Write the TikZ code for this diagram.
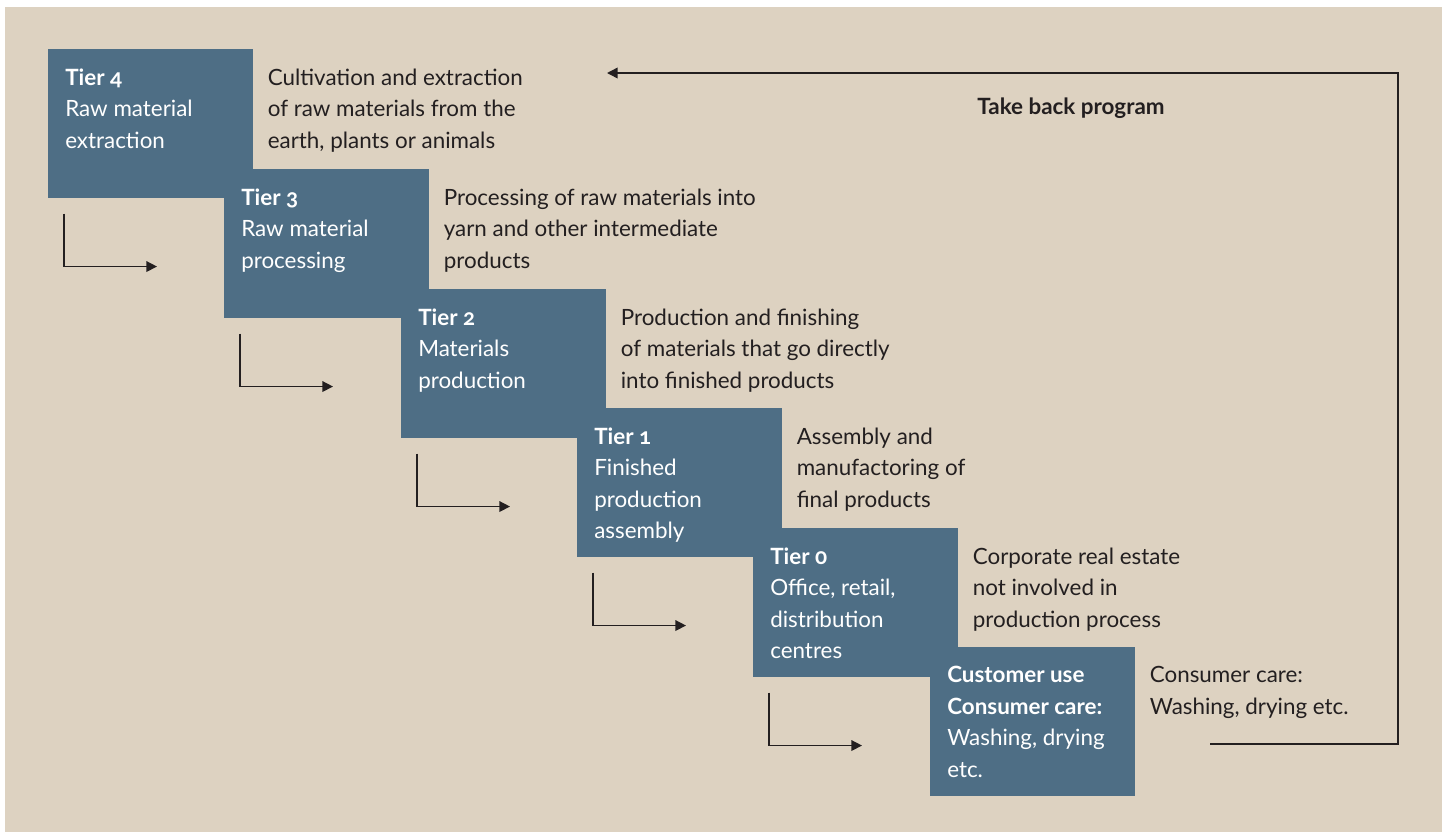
\documentclass[tikz,border=0pt]{standalone}
\usepackage{fontspec}
\setmainfont{Lato}[Numbers=OldStyle]
\usepackage{xcolor}
\usetikzlibrary{arrows.meta}
\definecolor{sand}{RGB}{221, 210, 193}
\definecolor{slate}{RGB}{78, 110, 133}
\definecolor{ink}{RGB}{35, 31, 32}

\begin{document}
\begin{tikzpicture}[x=0.75pt,y=-0.75pt,
  font=\fontsize{16.8pt}{23.6pt}\selectfont,
  tierbox/.style={fill=slate,anchor=north west,inner sep=0pt,
    minimum width=153.75pt,minimum height=111.75pt},
  tiertext/.style={anchor=north west,inner sep=0pt,align=left,text=white,
    xshift=12.75pt,yshift=-14.5pt},
  desc/.style={anchor=north west,inner sep=0pt,align=left,text=ink,
    xshift=10.5pt,yshift=-14.5pt},
  flow/.style={draw=ink,line width=1.1pt,-{Triangle[length=8pt,width=8pt]}}]
  \useasboundingbox (0,0) rectangle (1450,832);
  \fill[sand] (5,7) rectangle (1442,832);

  % the staircase of tiers
  \node[tierbox] (t4) at (48,49) {};
  \node[tierbox] (t3) at (224,169) {};
  \node[tierbox] (t2) at (401,289) {};
  \node[tierbox] (t1) at (577,408) {};
  \node[tierbox] (t0) at (753,528) {};
  \node[tierbox] (cu) at (930,647) {};

  \node[tiertext] (t4-name) at (t4.north west) {\textbf{Tier 4}\\Raw material\\extraction};
  \node[tiertext] (t3-name) at (t3.north west) {\textbf{Tier 3}\\Raw material\\processing};
  \node[tiertext] (t2-name) at (t2.north west) {\textbf{Tier 2}\\Materials\\production};
  \node[tiertext] (t1-name) at (t1.north west) {\textbf{Tier 1}\\Finished\\production\\assembly};
  \node[tiertext] (t0-name) at (t0.north west) {\textbf{Tier 0}\\Office, retail,\\distribution\\centres};
  \node[tiertext] (cu-name) at (cu.north west) {\textbf{Customer use}\\\textbf{Consumer care:}\\Washing, drying\\etc.};

  \node[desc] (t4-desc) at (t4.north east) {Cultivation and extraction\\of raw materials from the\\earth, plants or animals};
  \node[desc] (t3-desc) at (t3.north east) {Processing of raw materials into\\yarn and other intermediate\\products};
  \node[desc] (t2-desc) at (t2.north east) {Production and finishing\\of materials that go directly\\into finished products};
  \node[desc] (t1-desc) at (t1.north east) {Assembly and\\manufactoring of\\final products};
  \node[desc] (t0-desc) at (t0.north east) {Corporate real estate\\not involved in\\production process};
  \node[desc] (cu-desc) at (cu.north east) {Consumer care:\\Washing, drying etc.};

  % step arrows under each box
  \foreach \t in {4,3,2,1,0}
    \draw[flow] ([xshift=12pt,yshift=-11.25pt]t\t.south west) -- ++(0,53) -- ++(93,0);

  % loop back to the top
  \coordinate (back-from) at (1210,744);
  \coordinate (back-to) at (607,73);
  \draw[flow] (back-from) -| (1398,73) -- (back-to);
  \node[text=ink] (back-label) at (1071,108) {\textbf{Take back program}};
\end{tikzpicture}
\end{document}
